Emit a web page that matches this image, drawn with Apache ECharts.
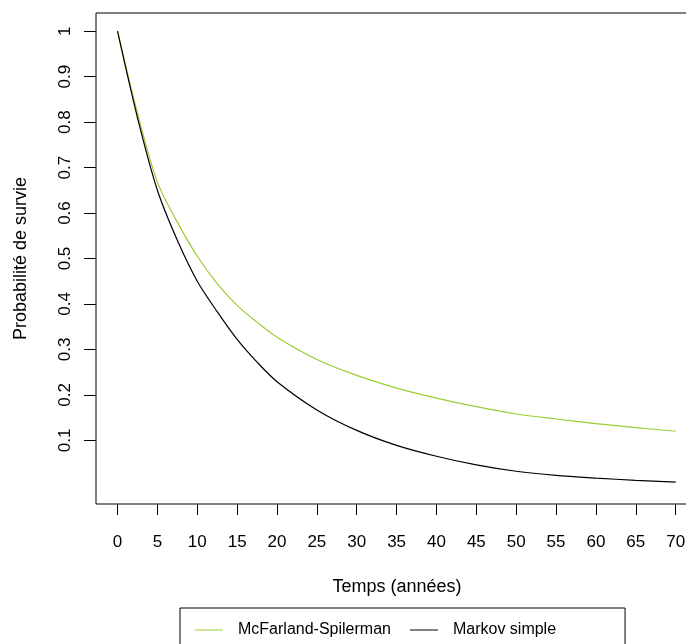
<!DOCTYPE html>
<html>
<head>
<meta charset="utf-8">
<script src="https://cdn.jsdelivr.net/npm/echarts@6/dist/echarts.min.js"></script>
<style>
  html, body { margin: 0; padding: 0; background: #fff; overflow: hidden; }
  /* plot box runs past the right edge of the window, as in the original */
  .survie-chart { width: 700px; height: 644px; }
</style>
</head>
<body>
<div class="survie-chart"></div>
<script>
// * Courbes de survie
const years = [0, 2.5, 5, 7.5, 10, 12.5, 15, 17.5, 20, 25, 30, 35, 40, 45, 50, 55, 60, 65, 70]
const mcFarland = [1.0, 0.82, 0.668, 0.58, 0.505, 0.445, 0.397, 0.36, 0.327, 0.278, 0.243, 0.215, 0.193, 0.174, 0.158, 0.147, 0.137, 0.128, 0.12]
const markov = [1.0, 0.81, 0.65, 0.54, 0.45, 0.383, 0.322, 0.272, 0.229, 0.167, 0.122, 0.089, 0.065, 0.046, 0.032, 0.023, 0.017, 0.012, 0.008]
const xTicks = [0, 5, 10, 15, 20, 25, 30, 35, 40, 45, 50, 55, 60, 65, 70]
const yTicks = [0.1, 0.2, 0.3, 0.4, 0.5, 0.6, 0.7, 0.8, 0.9, 1]

const toPairs = (ys) => years.map((x, i) => [x, ys[i]])
const font = 'Liberation Sans, Arial, sans-serif'

// ? initialise
const chart = echarts.init(document.querySelector('.survie-chart'), null, { renderer: 'canvas' })

const option = {
  animation: false,
  backgroundColor: '#fff',
  textStyle: { fontFamily: font, color: '#000' },
  grid: {
    show: true,
    left: 96,
    top: 13,
    width: 602,
    height: 491,
    borderColor: '#000',
    borderWidth: 1,
    backgroundColor: 'transparent'
  },
  legend: {
    left: 180,
    top: 608,
    padding: [14, 69, 14, 15],
    borderColor: '#000',
    borderWidth: 1,
    itemGap: 19,
    itemWidth: 28,
    itemHeight: 1,
    icon: 'rect',
    textStyle: { fontFamily: font, fontSize: 16, color: '#000', padding: [0, 0, 0, 10] },
    data: ['McFarland-Spilerman', 'Markov simple']
  },
  xAxis: {
    type: 'value',
    min: -2.7,
    max: 72.8,
    name: 'Temps (années)',
    nameLocation: 'middle',
    nameGap: 74,
    nameTextStyle: { fontFamily: font, fontSize: 18, color: '#000' },
    splitLine: { show: false },
    axisLine: { show: false, onZero: false },
    axisTick: { show: true, length: 11, customValues: xTicks, lineStyle: { color: '#000' } },
    axisLabel: { customValues: xTicks, margin: 30, fontSize: 17, color: '#000', fontFamily: font }
  },
  yAxis: {
    type: 'value',
    min: -0.04,
    max: 1.04,
    name: 'Probabilité de survie',
    nameLocation: 'middle',
    nameGap: 66,
    nameRotate: 90,
    nameTextStyle: { fontFamily: font, fontSize: 18, color: '#000' },
    splitLine: { show: false },
    axisLine: { show: false, onZero: false },
    axisTick: { show: true, length: 12, customValues: yTicks, lineStyle: { color: '#000' } },
    axisLabel: { customValues: yTicks, rotate: 90, margin: 22, fontSize: 17, color: '#000', fontFamily: font }
  },
  series: [
    {
      name: 'McFarland-Spilerman',
      type: 'line',
      data: toPairs(mcFarland),
      smooth: 0.3,
      symbol: 'none',
      itemStyle: { color: '#9ACD32' },
      lineStyle: { color: '#9ACD32', width: 1.2 }
    },
    {
      name: 'Markov simple',
      type: 'line',
      data: toPairs(markov),
      smooth: 0.3,
      symbol: 'none',
      itemStyle: { color: '#000' },
      lineStyle: { color: '#000', width: 1.2 }
    }
  ]
}

// ? apply
chart.setOption(option)
</script>
</body>
</html>
